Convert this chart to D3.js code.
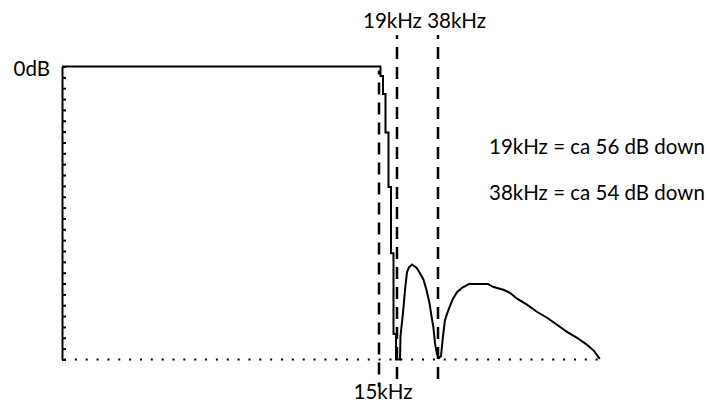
<!DOCTYPE html>
<html lang="en">
<head>
<meta charset="UTF-8">
<script src="https://d3js.org/d3.v7.min.js"></script>
<style>
  body { margin: 0; background: #fff; }
  svg text { font-family: Lato, "Open Sans", sans-serif; font-size: 20.5px; fill: #000; }
</style>
</head>
<body>
<svg id="graph" width="710" height="405"></svg>
<script>
// filter response: frequency (kHz) and level (dB)
const freqs = [0, 15.33, 15.33, 15.89, 15.89, 16.44, 16.44, 17.11, 17.11, 17.67, 17.67, 18.22, 18.22, 18.78, 18.78,
  20.39, 20.62, 21.78, 22.71, 23.63, 24.56, 25.95, 28.04, 29.66, 31.28, 32.67, 34.06, 34.99, 35.91, 36.61, 37.54,
  38.46, 39.39, 40.31, 41.24, 42.17, 43.56, 44.95, 46.8, 49.1, 52.35, 61.15, 63.47, 68.56, 71.3, 74.6, 79.2, 83.8,
  88.5, 93.1, 97.7, 102.4, 107.0, 110.2, 112.9];
const levels = [0, 0, -1.75, -1.75, -5.07, -5.07, -12.16, -12.16, -22.2, -22.2, -34.4, -34.4, -49.3, -49.3, -54,
  -54, -49.7, -45.4, -41.2, -37.9, -37.0, -36.5, -37.1, -38.1, -39.3, -41.2, -43.6, -46.0, -48.2, -51.0, -53.0,
  -53.7, -53.4, -49.7, -46.7, -45.6, -44.1, -42.8, -41.6, -40.8, -40.1, -40.1, -40.6, -41.2, -41.7, -42.8, -43.9,
  -45.2, -46.3, -47.6, -48.9, -50.0, -51.3, -52.4, -53.9];
const markers = [15, 19, 38];
const dbTicks = d3.range(-54, 1, 2);
const notes = ["19kHz = ca 56 dB down", "38kHz = ca 54 dB down"];

const svg = d3.select("#graph");

// the display is not linear in frequency: stretched below 19kHz
const x = d3.scaleLinear()
  .domain([0, 15, 19, 38, 113])
  .range([62, 379, 397, 438, 600]);

const y = d3.scaleLinear()
  .domain([-54, 0])
  .range([359.5, 66.5]);

// dotted floor line
svg.append("line")
  .attr("x1", x(0) + 2).attr("x2", x(113))
  .attr("y1", y(-54)).attr("y2", y(-54))
  .attr("stroke", "#000")
  .attr("stroke-width", 2)
  .attr("stroke-dasharray", "2,8.85");

// left axis, ticks pointing into the plot
const axis = svg.append("g")
  .attr("transform", `translate(${x(0)},0)`)
  .call(d3.axisRight(y).tickValues(dbTicks).tickSize(4).tickSizeOuter(0).tickFormat(""));
axis.select(".domain").attr("stroke-width", 2);
axis.selectAll(".tick line").attr("stroke-width", 2);

// marker lines
svg.selectAll(".marker")
  .data(markers)
  .enter().append("line")
  .attr("class", "marker")
  .attr("x1", d => x(d)).attr("x2", d => x(d))
  .attr("y1", d => d === 15 ? y(0) + 4 : 35)
  .attr("y2", 387)
  .attr("stroke", "#000")
  .attr("stroke-width", 2.5)
  .attr("stroke-dasharray", "12,8")
  .attr("stroke-dashoffset", 8);

// response curve
const line = d3.line()
  .x((d, i) => x(freqs[i]))
  .y(d => y(d));

svg.append("path")
  .datum(levels)
  .attr("d", line)
  .attr("fill", "none")
  .attr("stroke", "#000")
  .attr("stroke-width", 2);

// labels
svg.append("text")
  .attr("x", 50).attr("y", y(0) + 9)
  .attr("text-anchor", "end")
  .text("0dB");

svg.append("text")
  .attr("x", x(19) - 34).attr("y", 28)
  .text("19kHz 38kHz");

svg.append("text")
  .attr("x", x(15) + 4).attr("y", 399)
  .attr("text-anchor", "middle")
  .text("15kHz");

svg.selectAll(".note")
  .data(notes)
  .enter().append("text")
  .attr("class", "note")
  .attr("x", 489)
  .attr("y", (d, i) => 154 + i * 46)
  .text(d => d);
</script>
</body>
</html>
